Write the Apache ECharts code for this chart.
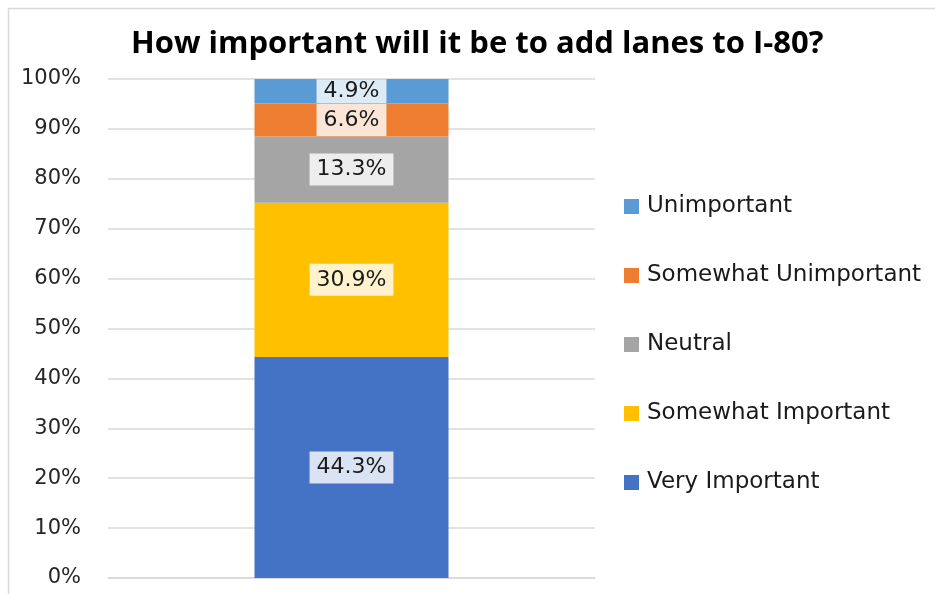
<!DOCTYPE html>
<html>
<head>
<meta charset="utf-8">
<script src="https://cdn.jsdelivr.net/npm/echarts@6/dist/echarts.min.js"></script>
<style>
  html, body { margin: 0; padding: 0; background: #ffffff; }
  #chart { width: 935px; height: 594px; }
</style>
</head>
<body>
<div id="chart"></div>
<script>
// Survey responses: share of answers per level of importance
const categories = ['I-80'];
const seriesNames = ['Very Important', 'Somewhat Important', 'Neutral', 'Somewhat Unimportant', 'Unimportant'];
const veryImportant = [44.3];
const somewhatImportant = [30.9];
const neutral = [13.3];
const somewhatUnimportant = [6.6];
const unimportant = [4.9];
const yTicks = [0, 10, 20, 30, 40, 50, 60, 70, 80, 90, 100];

const seriesValues = [veryImportant, somewhatImportant, neutral, somewhatUnimportant, unimportant];
const colors = ['#4472C4', '#FFC000', '#A5A5A5', '#ED7D31', '#5B9BD5'];
const labelBg = ['#DAE3F3', '#FFF2CC', '#EDEDED', '#FBE5D6', '#DDEBF7'];

const font = 'DejaVu Sans';

const chart = echarts.init(document.getElementById('chart'), null, { renderer: 'canvas' });

const series = seriesNames.map((name, i) => ({
  name: name,
  type: 'bar',
  stack: 'total',
  barWidth: 194,
  data: seriesValues[i],
  itemStyle: { color: colors[i] },
  label: {
    show: true,
    position: 'inside',
    formatter: p => p.value.toFixed(1) + '%',
    color: '#1a1a1a',
    fontFamily: font,
    fontSize: 22,
    backgroundColor: labelBg[i],
    padding: i === 4 ? [1, 7, 1, 7] : [5, 7, 5, 7]
  },
  emphasis: { disabled: true }
}));

chart.setOption({
  animation: false,
  backgroundColor: '#ffffff',
  title: {
    text: 'How important will it be to add lanes to I-80?',
    left: 126,
    top: 24,
    textStyle: {
      fontFamily: 'Open Sans',
      fontWeight: 'bold',
      fontSize: 31,
      color: '#000000'
    }
  },
  legend: {
    orient: 'vertical',
    left: 619,
    top: 190,
    itemGap: 46,
    itemWidth: 15,
    itemHeight: 15,
    icon: 'rect',
    data: seriesNames.slice().reverse(),
    textStyle: { fontFamily: font, fontSize: 23, color: '#1a1a1a', padding: [0, 0, 0, 3] }
  },
  grid: { left: 108, right: 340, top: 79, bottom: 16, containLabel: false },
  xAxis: {
    type: 'category',
    data: categories,
    axisLine: { show: true, lineStyle: { color: '#d9d9d9', width: 1.5 } },
    axisTick: { show: false },
    axisLabel: { show: false }
  },
  yAxis: {
    type: 'value',
    min: yTicks[0],
    max: yTicks[yTicks.length - 1],
    interval: 10,
    axisLine: { show: false },
    axisTick: { show: false },
    splitLine: { show: true, lineStyle: { color: '#d9d9d9', width: 1.5 } },
    axisLabel: {
      formatter: v => v + '%',
      fontFamily: font,
      fontSize: 21,
      color: '#262626',
      margin: 27
    }
  },
  graphic: [
    { type: 'line', shape: { x1: 8.5, y1: 8, x2: 8.5, y2: 594 }, style: { stroke: '#d9d9d9', lineWidth: 1.5 } },
    { type: 'line', shape: { x1: 8, y1: 8.5, x2: 935, y2: 8.5 }, style: { stroke: '#d9d9d9', lineWidth: 1.5 } }
  ],
  series: series
});
</script>
</body>
</html>
